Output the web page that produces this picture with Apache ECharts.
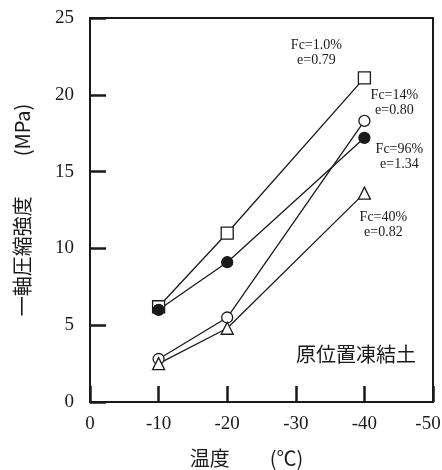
<!DOCTYPE html>
<html><head><meta charset="utf-8">
<script src="https://cdn.jsdelivr.net/npm/echarts@6/dist/echarts.min.js"></script>
<style>html,body{margin:0;padding:0;background:#fff}#c{width:442px;height:470px}</style>
</head><body><div id="c"></div>
<script>
const temps = [-10, -20, -40];
const fc1 = [6.2, 11.0, 21.1];
const fc14 = [2.8, 5.5, 18.3];
const fc96 = [6.0, 9.1, 17.2];
const fc40 = [2.5, 4.8, 13.6];
const labels = {
  fc1: 'Fc=1.0%\ne=0.79',
  fc14: 'Fc=14%\ne=0.80',
  fc96: 'Fc=96%\ne=1.34',
  fc40: 'Fc=40%\ne=0.82'
};
const xTicks = [0, -10, -20, -30, -40, -50];
const yTicks = [0, 5, 10, 15, 20, 25];

const serif = '"Liberation Serif", "Times New Roman", serif';
const cjk = '"Noto Sans CJK JP", sans-serif';
const ink = '#1a1a1a';

function mk(vals, symbol, size, filled, label, offset) {
  return {
    type: 'line',
    data: temps.map((t, i) => {
      const d = { value: [t, vals[i]] };
      if (i === temps.length - 1) {
        d.label = {
          show: true, formatter: label, position: 'inside', offset: offset,
          align: 'center', verticalAlign: 'middle',
          fontFamily: serif, fontSize: 14, lineHeight: 15, color: ink
        };
      }
      return d;
    }),
    symbol: symbol, symbolSize: size, showAllSymbol: true,
    lineStyle: { color: ink, width: 1.3 },
    itemStyle: { color: filled ? ink : '#fff', borderColor: ink, borderWidth: 1.3 },
    label: { show: false },
    z: 3
  };
}

const chart = echarts.init(document.getElementById('c'));
chart.setOption({
  backgroundColor: '#fff',
  animation: false,
  grid: { left: 90, right: 9, top: 18, bottom: 68, containLabel: false, outerBoundsMode: 'none',
    show: true, borderColor: ink, borderWidth: 2, backgroundColor: 'transparent' },
  xAxis: {
    type: 'value', min: -50, max: 0, interval: 10, inverse: true,
    axisLine: { show: true, lineStyle: { color: ink, width: 2 } },
    axisTick: { show: true, inside: true, length: 16, lineStyle: { color: ink, width: 2.5 } },
    splitLine: { show: false },
    axisLabel: { margin: 13, fontFamily: serif, fontSize: 19, color: ink,
      formatter: v => !xTicks.includes(v) ? '' : (v === -50 ? '{e|' + v + '}' : String(v)),
      rich: { e: { fontFamily: serif, fontSize: 19, color: ink, padding: [0, 10, 0, 0] } } },
    name: '温度　　(℃)', nameLocation: 'middle', nameGap: 46,
    nameTextStyle: { fontFamily: cjk, fontSize: 20, color: ink, padding: [0, 30, 0, 0] }
  },
  yAxis: {
    type: 'value', min: 0, max: 25, interval: 5,
    axisLine: { show: true, lineStyle: { color: ink, width: 2 } },
    axisTick: { show: true, inside: true, length: 16, lineStyle: { color: ink, width: 2.5 } },
    splitLine: { show: false },
    axisLabel: { margin: 16, fontFamily: serif, fontSize: 19, color: ink,
      formatter: v => yTicks.includes(v) ? String(v) : '' },
    name: '一軸圧縮強度　　(MPa)', nameLocation: 'middle', nameGap: 58, nameRotate: 90,
    nameTextStyle: { fontFamily: cjk, fontSize: 20, color: ink }
  },
  graphic: [{
    type: 'text', left: 296, top: 344,
    style: { text: '原位置凍結土', font: '20px "Noto Sans CJK JP"', fill: ink }
  }],
  series: [
    mk(fc1, 'rect', 12, false, labels.fc1, [-48, -25]),
    mk(fc14, 'circle', 11, false, labels.fc14, [30, -18]),
    mk(fc96, 'circle', 11, true, labels.fc96, [35, 19]),
    mk(fc40, 'triangle', 12, false, labels.fc40, [19, 32])
  ]
});
</script></body></html>
